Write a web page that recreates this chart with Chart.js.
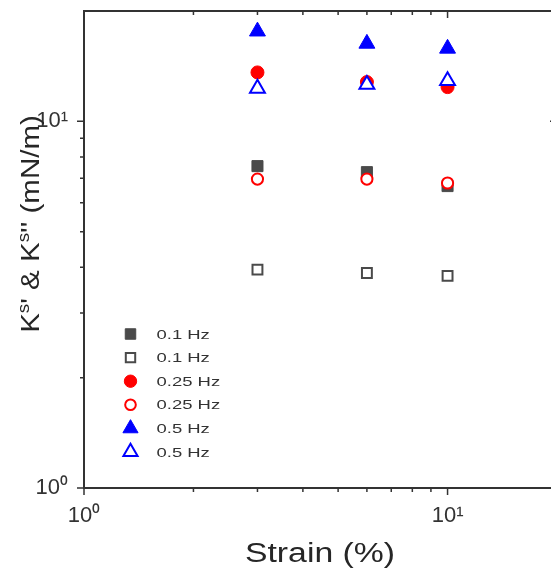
<!DOCTYPE html>
<html><head><meta charset="utf-8">
<script src="https://cdn.jsdelivr.net/npm/chart.js@4"></script>
<style>html,body{margin:0;padding:0;background:#fff;overflow:hidden;width:551px;height:578px}
canvas{display:block}</style></head>
<body><canvas id="c" width="560" height="578"></canvas>
<script>
// ---- data ----
const strain = [3, 6, 10];
const seriesLabels = ['0.1 Hz', '0.1 Hz', '0.25 Hz', '0.25 Hz', '0.5 Hz', '0.5 Hz'];
const kStorage01 = [7.55, 7.27, 6.66];
const kLoss01 = [3.94, 3.86, 3.79];
const kStorage025 = [13.6, 12.8, 12.4];
const kLoss025 = [6.96, 6.96, 6.79];
const kStorage05 = [17.6, 16.3, 15.8];
const kLoss05 = [12.3, 12.6, 12.9];
const axisMin = 1, axisMax = 20;
const tickValues = [1, 2, 3, 4, 5, 6, 7, 8, 9, 10];
const majorTickLabels = {1: '10\u2070', 10: '10\u00B9'};
const xTitle = 'Strain (%)';
const yTitleParts = [['K', 0], ['s', 1], ["' & K", 0], ['s', 1], ["'' (mN/m)", 0]];

// ---- styles ----
const styles = [
  {ps: 'rect', bg: '#4a4a4a', bc: '#4a4a4a', r: 7.8, bw: 1},
  {ps: 'rect', bg: '#ffffff', bc: '#4a4a4a', r: 7.0, bw: 2},
  {ps: 'circle', bg: '#ff0000', bc: '#ff0000', r: 6.5, bw: 1},
  {ps: 'circle', bg: '#ffffff', bc: '#ff0000', r: 5.6, bw: 2},
  {ps: 'triangle', bg: '#0000ff', bc: '#0000ff', r: 9.2, bw: 1},
  {ps: 'triangle', bg: '#ffffff', bc: '#0000ff', r: 8.6, bw: 2}
];
const seriesValues = [kStorage01, kLoss01, kStorage025, kLoss025, kStorage05, kLoss05];

const datasets = seriesValues.map((vals, i) => ({
  label: seriesLabels[i],
  data: strain.map((x, j) => ({x: x, y: vals[j]})),
  pointStyle: styles[i].ps,
  backgroundColor: styles[i].bg,
  borderColor: styles[i].bc,
  pointRadius: styles[i].r,
  pointBorderWidth: styles[i].bw,
  showLine: false,
  order: 10 - i
}));

function stretchedText(ctx, text, x, y, font, sx, align) {
  ctx.save();
  ctx.font = font;
  ctx.textBaseline = 'middle';
  const w = ctx.measureText(text).width * sx;
  let x0 = x;
  if (align === 'center') x0 = x - w / 2;
  else if (align === 'right') x0 = x - w;
  ctx.translate(x0, y);
  ctx.scale(sx, 1);
  ctx.textAlign = 'left';
  ctx.fillText(text, 0, 0);
  ctx.restore();
  return w;
}

const decor = {
  id: 'decor',
  beforeDatasetsDraw(chart) {
    const ctx = chart.ctx, a = chart.chartArea;
    const xs = chart.scales.x, ys = chart.scales.y;
    ctx.save();
    ctx.strokeStyle = '#333';
    ctx.lineWidth = 2;
    ctx.strokeRect(a.left, a.top, a.right - a.left, a.bottom - a.top);
    ctx.lineWidth = 1.5;
    ctx.beginPath();
    tickValues.forEach(v => {
      const major = (v === 1 || v === 10);
      const L = major ? 7 : 4;
      const px = xs.getPixelForValue(v);
      ctx.moveTo(px, a.bottom); ctx.lineTo(px, a.bottom + L);
      ctx.moveTo(px, a.top); ctx.lineTo(px, a.top + L);
      const py = ys.getPixelForValue(v);
      ctx.moveTo(a.left, py); ctx.lineTo(a.left - L, py);
      ctx.moveTo(a.right, py); ctx.lineTo(a.right - L, py);
    });
    ctx.stroke();
    ctx.restore();
  },
  afterDraw(chart) {
    const ctx = chart.ctx, a = chart.chartArea;
    ctx.save();
    ctx.fillStyle = '#262626';
    // x title
    stretchedText(ctx, xTitle, 320, 555, '27px Arial, "Liberation Sans"', 1.25, 'center');
    // y title rotated
    ctx.save();
    ctx.translate(32, 224);
    ctx.rotate(-Math.PI / 2);
    const sx = 1.18;
    const big = '25px Arial, "Liberation Sans"', small = '16px Arial, "Liberation Sans"';
    let total = 0;
    yTitleParts.forEach(([t, sup]) => { ctx.font = sup ? small : big; total += ctx.measureText(t).width * sx; });
    let cx = -total / 2;
    yTitleParts.forEach(([t, sup]) => {
      cx += stretchedText(ctx, t, cx, sup ? -7 : 0, sup ? small : big, sx, 'left');
    });
    ctx.restore();
    // legend
    const rowY0 = 334, rowStep = 23.6;
    chart.data.datasets.forEach((ds, i) => {
      const y = rowY0 + i * rowStep;
      ctx.save();
      ctx.fillStyle = ds.backgroundColor;
      ctx.strokeStyle = ds.borderColor;
      ctx.lineWidth = ds.pointBorderWidth;
      Chart.helpers.drawPoint(ctx, {pointStyle: ds.pointStyle, rotation: 0, radius: ds.pointRadius * 0.95, borderWidth: ds.pointBorderWidth}, 130.5, y);
      ctx.restore();
      ctx.fillStyle = '#333';
      stretchedText(ctx, ds.label, 156.5, y + 1, '13px Arial, "Liberation Sans"', 1.42, 'left');
    });
    ctx.restore();
  }
};

const tickFont = {family: 'Arial, "Liberation Sans"', size: 22};
function zeroPad(s) { s.paddingTop = 0; s.paddingBottom = 0; s.paddingLeft = 0; s.paddingRight = 0; }
function axis(pos, fitFn) {
  return {
    type: 'logarithmic', position: pos, min: axisMin, max: axisMax,
    grid: {display: false, drawTicks: false},
    border: {display: false},
    ticks: {
      autoSkip: false, maxRotation: 0, color: '#333', font: tickFont,
      padding: pos === 'left' ? 16 : 15,
      callback: (v) => majorTickLabels[v] || ''
    },
    afterBuildTicks: (s) => { s.ticks = tickValues.map(v => ({value: v})); },
    afterFit: (s) => { fitFn(s); zeroPad(s); }
  };
}

new Chart(document.getElementById('c'), {
  type: 'scatter',
  data: {datasets: datasets},
  options: {
    responsive: false, animation: false, events: [],
    layout: {autoPadding: false, padding: {left: 0, top: 11, right: 3, bottom: 0}},
    plugins: {legend: {display: false}, tooltip: {enabled: false}},
    scales: {
      x: axis('bottom', (s) => { s.height = 90; }),
      y: axis('left', (s) => { s.width = 84; })
    }
  },
  plugins: [decor]
});
</script></body></html>
